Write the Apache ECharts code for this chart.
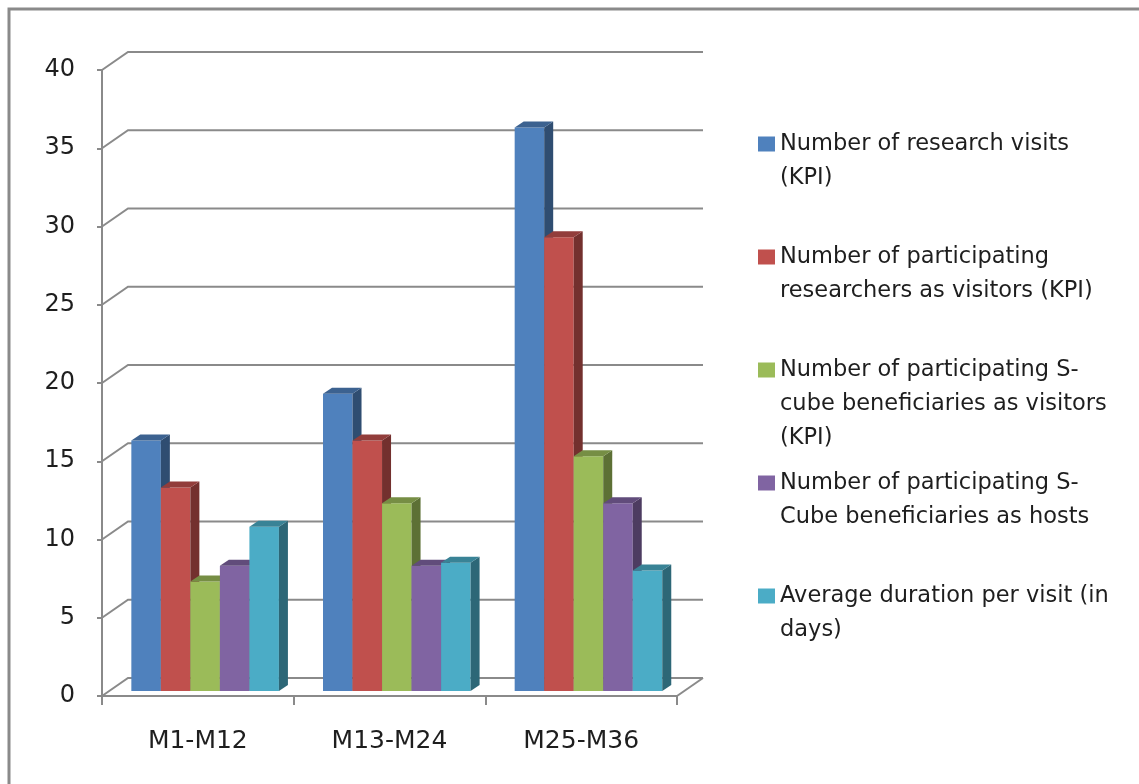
<!DOCTYPE html>
<html>
<head>
<meta charset="utf-8">
<script src="https://cdn.jsdelivr.net/npm/echarts@6/dist/echarts.min.js"></script>
<style>
  html, body { margin: 0; padding: 0; background: #ffffff; }
  #chart { width: 1139px; height: 784px; }
</style>
</head>
<body>
<div id="chart"></div>
<script>
// Reporting periods
const categories = ['M1-M12', 'M13-M24', 'M25-M36'];

// Series values per period
const researchVisits = [16, 19, 36];
const researchersAsVisitors = [13, 16, 29];
const cubeBeneficiariesAsVisitors = [7, 12, 15];
const cubeBeneficiariesAsHosts = [8, 8, 12];
const avgDurationPerVisit = [10.5, 8.2, 7.7];

// Value axis ticks
const yTicks = [0, 5, 10, 15, 20, 25, 30, 35, 40];

const seriesNames = [
  'Number of research visits (KPI)',
  'Number of participating researchers as visitors (KPI)',
  'Number of participating S-cube beneficiaries as visitors (KPI)',
  'Number of participating S-Cube beneficiaries as hosts',
  'Average duration per visit (in days)'
];
const legendLines = [
  ['Number of research visits', '(KPI)'],
  ['Number of participating', 'researchers as visitors (KPI)'],
  ['Number of participating S-', 'cube beneficiaries as visitors', '(KPI)'],
  ['Number of participating S-', 'Cube beneficiaries as hosts'],
  ['Average duration per visit (in', 'days)']
];
const seriesValues = [
  researchVisits, researchersAsVisitors, cubeBeneficiariesAsVisitors,
  cubeBeneficiariesAsHosts, avgDurationPerVisit
];
const colors = ['#4F81BD', '#C0504D', '#9BBB59', '#8064A2', '#4BACC6'];

// Oblique projection of the chart box
const WALL_DX = 26, WALL_DY = -18;      // back wall offset from front plane
const BAR_DX = 7.3, BAR_DY = -5;        // bar front face offset
const BAR_DEPTH_DX = 9, BAR_DEPTH_DY = -6;
const GROUP_RATIO = 0.77;
const AXIS_GRAY = '#8a8a8a';
const FONT = 'DejaVu Sans';
const TEXT_COLOR = '#1e1e1e';

function shade(hex, f) {
  const n = parseInt(hex.slice(1), 16);
  const r = Math.round(((n >> 16) & 255) * f);
  const g = Math.round(((n >> 8) & 255) * f);
  const b = Math.round((n & 255) * f);
  return 'rgb(' + r + ',' + g + ',' + b + ')';
}

function wallRenderItem(params, api) {
  const cs = params.coordSys;
  const y = api.coord([0, api.value(1)])[1];
  const children = [{
    type: 'polyline',
    shape: { points: [
      [cs.x, y],
      [cs.x + WALL_DX, y + WALL_DY],
      [cs.x + cs.width + WALL_DX, y + WALL_DY]
    ] },
    style: { stroke: AXIS_GRAY, lineWidth: 2, fill: null }
  }];
  if (api.value(1) === 0) {
    children.push({
      type: 'line',
      shape: { x1: cs.x + cs.width, y1: y, x2: cs.x + cs.width + WALL_DX, y2: y + WALL_DY },
      style: { stroke: AXIS_GRAY, lineWidth: 2 }
    });
  }
  return { type: 'group', children: children };
}

function makeBarRenderer(idx, color) {
  return function (params, api) {
    const top = api.coord([api.value(0), api.value(1)]);
    const base = api.coord([api.value(0), 0]);
    const band = api.size([1, 0])[0];
    const groupW = band * GROUP_RATIO;
    const w = groupW / seriesValues.length;
    const x0 = top[0] - groupW / 2 + idx * w + BAR_DX;
    const x1 = x0 + w;
    const yt = top[1] + BAR_DY;
    const yb = base[1] + BAR_DY;
    return {
      type: 'group',
      children: [
        { type: 'rect', shape: { x: x0, y: yt, width: w, height: yb - yt },
          style: { fill: color } },
        { type: 'polygon', shape: { points: [
            [x1, yt], [x1 + BAR_DEPTH_DX, yt + BAR_DEPTH_DY],
            [x1 + BAR_DEPTH_DX, yb + BAR_DEPTH_DY], [x1, yb]] },
          style: { fill: shade(color, 0.6) } },
        { type: 'polygon', shape: { points: [
            [x0, yt], [x0 + BAR_DEPTH_DX, yt + BAR_DEPTH_DY],
            [x1 + BAR_DEPTH_DX, yt + BAR_DEPTH_DY], [x1, yt]] },
          style: { fill: shade(color, 0.76) } }
      ]
    };
  };
}

// Legend: the marker sits beside the first line of each wrapped name,
// so blank lines are prepended to keep the text block centred on it.
const LINE_H = 34;
const legendCenters = [144, 257, 370, 483, 596];

const legends = seriesNames.map(function (name, i) {
  const n = legendLines[i].length;
  const h = (2 * n - 1) * LINE_H;
  const lead = new Array(n - 1).fill(' ').join('\n');
  return {
    orient: 'vertical',
    left: 758,
    top: legendCenters[i] - h / 2,
    padding: 0,
    icon: 'rect',
    itemWidth: 17,
    itemHeight: 15,
    selectedMode: false,
    data: [name],
    formatter: function () { return lead + '\n' + legendLines[i].join('\n'); },
    textStyle: {
      fontFamily: FONT, fontSize: 22.5, color: TEXT_COLOR, lineHeight: LINE_H
    }
  };
});

const series = [{
  type: 'custom',
  name: 'wall',
  z: 1,
  clip: false,
  silent: true,
  renderItem: wallRenderItem,
  encode: { x: 0, y: 1 },
  data: yTicks.map(function (v) { return [0, v]; })
}];
seriesNames.forEach(function (name, i) {
  series.push({
    type: 'custom',
    name: name,
    z: 3,
    clip: false,
    itemStyle: { color: colors[i] },
    renderItem: makeBarRenderer(i, colors[i]),
    encode: { x: 0, y: 1 },
    data: seriesValues[i].map(function (v, k) { return [k, v]; })
  });
});

const chart = echarts.init(document.getElementById('chart'), null, { renderer: 'canvas' });
chart.setOption({
  backgroundColor: '#ffffff',
  animation: false,
  graphic: [{
    type: 'rect',
    shape: { x: 9, y: 9, width: 1150, height: 800 },
    style: { fill: null, stroke: AXIS_GRAY, lineWidth: 3 },
    z: 0
  }],
  grid: { left: 102, right: 462, top: 70, bottom: 88 },
  legend: legends,
  xAxis: {
    type: 'category',
    data: categories,
    boundaryGap: true,
    axisLine: { lineStyle: { color: AXIS_GRAY, width: 2 } },
    axisTick: { show: true, length: 9, lineStyle: { color: AXIS_GRAY, width: 2 } },
    axisLabel: { fontFamily: FONT, fontSize: 25, color: TEXT_COLOR, margin: 33 },
    splitLine: { show: false }
  },
  yAxis: {
    type: 'value',
    min: 0,
    max: 40,
    interval: 5,
    axisLine: { show: true, lineStyle: { color: AXIS_GRAY, width: 2 } },
    axisTick: { show: true, length: 5, lineStyle: { color: AXIS_GRAY, width: 2 } },
    axisLabel: { fontFamily: FONT, fontSize: 24, color: TEXT_COLOR, margin: 27 },
    splitLine: { show: false }
  },
  series: series
});
</script>
</body>
</html>
